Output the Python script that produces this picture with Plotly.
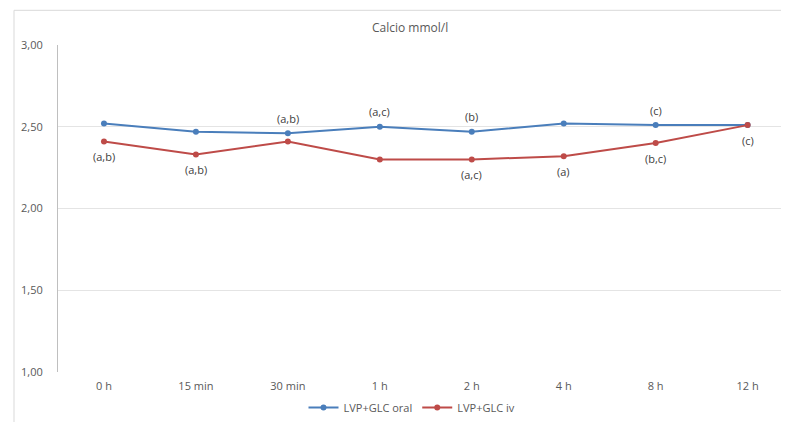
import plotly.graph_objects as go

categories = ["0 h", "15 min", "30 min", "1 h", "2 h", "4 h", "8 h", "12 h"]
oral_values = [2.52, 2.47, 2.46, 2.50, 2.47, 2.52, 2.51, 2.51]
iv_values = [2.41, 2.33, 2.41, 2.30, 2.30, 2.32, 2.40, 2.51]
oral_labels = ["", "", "(a,b)", "(a,c)", "(b)", "", "(c)", ""]
iv_labels = ["(a,b)", "(a,b)", "", "", "(a,c)", "(a)", "(b,c)", "(c)"]

BLUE = "#4A7EBB"
RED = "#BE4B48"
TXT = "#404040"

fig = go.Figure()
fig.add_trace(go.Scatter(
    x=categories, y=oral_values, name="LVP+GLC oral", mode="lines+markers",
    line=dict(color=BLUE, width=2), marker=dict(size=6, color=BLUE),
))
fig.add_trace(go.Scatter(
    x=categories, y=iv_values, name="LVP+GLC iv", mode="lines+markers",
    line=dict(color=RED, width=2), marker=dict(size=6, color=RED),
))

annotations = []
for cat, val, lab in zip(categories, oral_values, oral_labels):
    if lab:
        annotations.append(dict(x=cat, y=val, xref="x", yref="y", text=lab, showarrow=False,
                                yshift=15, font=dict(size=11, color=TXT, family="Open Sans")))
for cat, val, lab in zip(categories, iv_values, iv_labels):
    if lab:
        annotations.append(dict(x=cat, y=val, xref="x", yref="y", text=lab, showarrow=False,
                                yshift=-15, font=dict(size=11, color=TXT, family="Open Sans")))

# page body has an 8px margin, so the figure is offset by (8, 8) in the window;
# size the figure so it fits inside the 789x422 window without overflow
px = lambda x: (x - 58) / 731
py = lambda y: (375 - y) / 330
annotations.append(dict(text="Calcio mmol/l", x=px(410), y=py(27),
                        xref="paper", yref="paper", showarrow=False,
                        xanchor="center", yanchor="middle",
                        font=dict(size=12, color="#595959")))
fig.update_layout(
    width=781, height=414,
    margin=dict(l=50, r=0, t=37, b=47),
    paper_bgcolor="white", plot_bgcolor="white",
    separators=", ",
    font=dict(family="Open Sans", color="#595959", size=11),
    showlegend=True,
    legend=dict(orientation="h", x=px(412), y=py(411), xanchor="center", yanchor="middle",
                font=dict(size=11, color="#595959"), bgcolor="rgba(0,0,0,0)",
                itemwidth=30, tracegroupgap=0),
    annotations=annotations,
    shapes=[
        dict(type="line", xref="paper", yref="paper", x0=px(14), x1=px(14),
             y0=py(440), y1=py(10), line=dict(color="#d9d9d9", width=1), layer="below"),
        dict(type="line", xref="paper", yref="paper", x0=px(14), x1=px(820),
             y0=py(10), y1=py(10), line=dict(color="#d9d9d9", width=1), layer="below"),
    ],
)
fig.update_xaxes(range=[-0.5, 7.45], showgrid=False, showline=False, ticks="",
                 ticklabelstandoff=6, tickfont=dict(size=11, color="#595959"))
fig.update_yaxes(range=[1, 3], dtick=0.5, tickformat=".2f", showgrid=True,
                 gridcolor="#e4e4e4", gridwidth=1, zeroline=False,
                 showline=True, linecolor="#bfbfbf", linewidth=1, ticks="",
                 ticklabelstandoff=12, tickfont=dict(size=11, color="#595959"))

fig.write_html("out.html")
